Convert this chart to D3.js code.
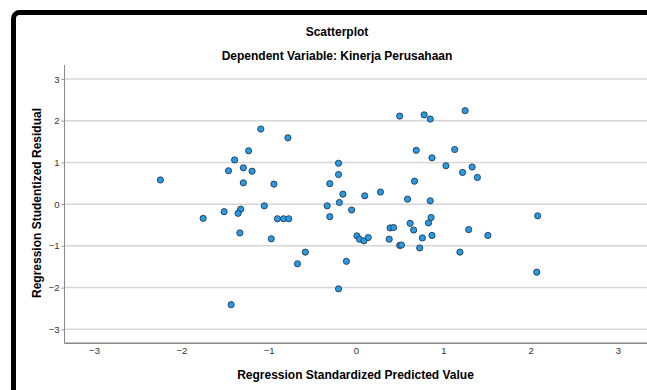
<!DOCTYPE html>
<html><head><meta charset="utf-8">
<script src="https://cdn.jsdelivr.net/npm/d3@7"></script>
<style>html,body{margin:0;padding:0;background:#fff;overflow:hidden}</style>
</head><body>
<svg id="c" width="647" height="390"></svg>
<script>
const predicted = [-2.24,-1.75,0.50,-1.09,-0.78,-1.23,0.69,-1.39,-0.20,-1.46,-1.29,-1.19,-0.20,-1.29,-0.94,-0.30,0.67,-0.15,0.10,0.28,0.59,-0.19,-0.33,-1.05,-1.32,-0.05,-1.51,-1.35,-0.90,-0.83,-0.77,-0.30,-1.33,-0.97,0.01,0.04,0.09,0.14,0.38,0.39,0.43,0.50,0.52,0.62,0.66,0.73,-0.58,-0.67,-0.11,-0.20,-1.43,0.78,0.85,1.25,1.13,0.87,1.03,1.33,1.22,1.39,0.85,0.86,0.83,0.76,0.87,1.29,1.51,1.19,2.08,2.07];
const residual = [0.58,-0.34,2.11,1.80,1.59,1.28,1.29,1.06,0.98,0.80,0.87,0.79,0.71,0.51,0.48,0.49,0.55,0.24,0.20,0.29,0.12,0.04,-0.04,-0.04,-0.12,-0.14,-0.18,-0.22,-0.35,-0.35,-0.35,-0.30,-0.69,-0.83,-0.76,-0.84,-0.88,-0.80,-0.84,-0.57,-0.56,-0.99,-0.98,-0.46,-0.62,-1.05,-1.15,-1.43,-1.37,-2.03,-2.41,2.14,2.04,2.24,1.31,1.11,0.92,0.89,0.76,0.64,0.08,-0.32,-0.45,-0.81,-0.75,-0.61,-0.75,-1.15,-0.28,-1.63];
const xTicks = [-3,-2,-1,0,1,2,3];
const yTicks = [-3,-2,-1,0,1,2,3];
const title = "Scatterplot";
const subtitle = "Dependent Variable: Kinerja Perusahaan";
const xTitle = "Regression Standardized Predicted Value";
const yTitle = "Regression Studentized Residual";

const svg = d3.select("#c");
const font = "'Liberation Sans', Arial, sans-serif";

// frame
svg.append("rect").attr("x",13.5).attr("y",12.5).attr("width",720).attr("height",420)
  .attr("rx",6).attr("fill","#fff").attr("stroke","#000").attr("stroke-width",5);

const x = d3.scaleLinear().domain([-3.338,3.338]).range([64.5,647.5]);
const y = d3.scaleLinear().domain([-3.335,3.335]).range([343.3,65]);

// gridlines
svg.append("g").selectAll("line").data(yTicks).join("line")
  .attr("x1",64.5).attr("x2",647).attr("y1",d=>y(d)).attr("y2",d=>y(d))
  .attr("stroke","#d6d6d6").attr("stroke-width",1.5);

// y axis
const yAxis = svg.append("g").attr("transform","translate(64.5,0)")
  .call(d3.axisLeft(y).tickValues(yTicks).tickSize(3).tickPadding(2).tickFormat(d3.format("d")));
yAxis.select(".domain").attr("stroke","#888").attr("d",`M0,${y.range()[1]}V${y.range()[0]}`);
yAxis.selectAll(".tick line").attr("stroke","#999");
yAxis.selectAll("text").attr("font-family",font).attr("font-size",9.5).attr("fill","#333");

// x axis
const xAxis = svg.append("g").attr("transform","translate(0,343.3)")
  .call(d3.axisBottom(x).tickValues(xTicks).tickSize(0).tickPadding(4).tickFormat(d3.format("d")));
xAxis.select(".domain").attr("stroke","#888").attr("stroke-width",1.5).attr("d",`M${x.range()[0]},0H647`);
xAxis.selectAll("text").attr("font-family",font).attr("font-size",9.5).attr("fill","#333");

// points
svg.append("g").selectAll("circle").data(predicted.map((p,i)=>[p,residual[i]])).join("circle")
  .attr("cx",d=>x(d[0])).attr("cy",d=>y(d[1])).attr("r",3.1)
  .attr("fill","#2a9be3").attr("stroke","#1d3b55").attr("stroke-width",0.9);

// titles
svg.append("text").attr("x",337).attr("y",36).attr("text-anchor","middle")
  .attr("font-family",font).attr("font-weight","bold").attr("font-size",12).text(title);
svg.append("text").attr("x",337).attr("y",60).attr("text-anchor","middle")
  .attr("font-family",font).attr("font-weight","bold").attr("font-size",12).text(subtitle);
svg.append("text").attr("x",355.5).attr("y",379).attr("text-anchor","middle")
  .attr("font-family",font).attr("font-weight","bold").attr("font-size",12).text(xTitle);
svg.append("text").attr("transform","translate(41,203) rotate(-90)").attr("text-anchor","middle")
  .attr("font-family",font).attr("font-weight","bold").attr("font-size",12).text(yTitle);
</script>
</body></html>
